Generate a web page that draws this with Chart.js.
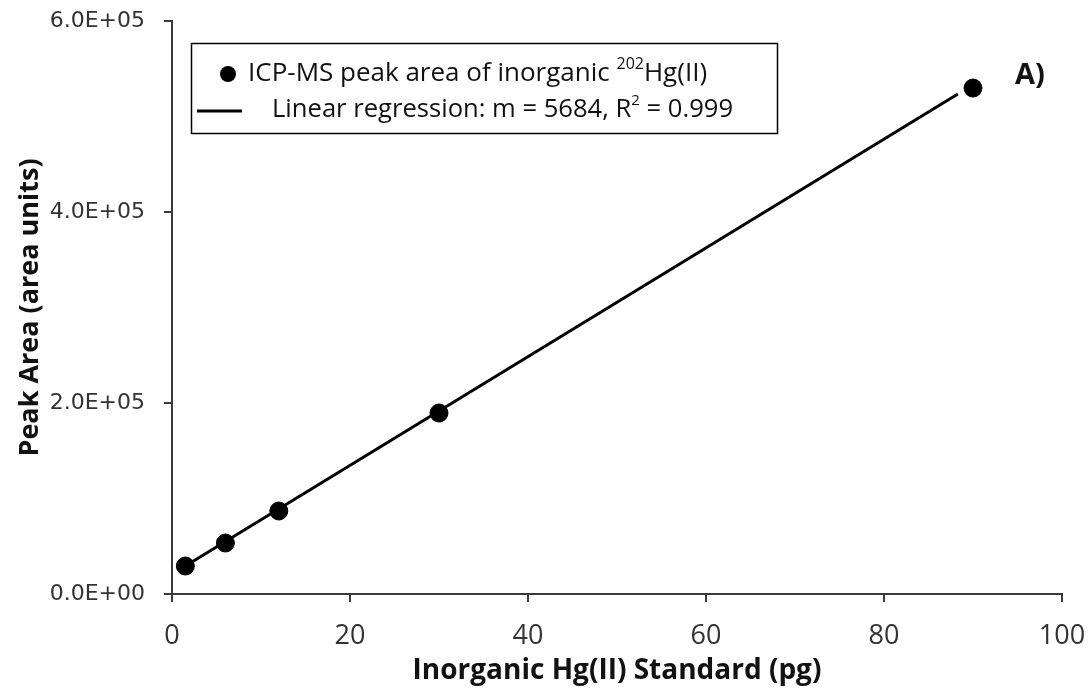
<!DOCTYPE html>
<html>
<head>
<meta charset="utf-8">
<script src="https://cdn.jsdelivr.net/npm/chart.js@4/dist/chart.umd.min.js"></script>
<style>
  html, body { margin: 0; padding: 0; background: #fff; }
  #myChart { display: block; }
</style>
</head>
<body>
<canvas id="myChart" width="1089" height="698"></canvas>
<script>
// standard amounts (pg) and measured peak areas
var standardPg = [1.5, 6, 12, 30, 90]
var peakArea = [29300, 53400, 86900, 189500, 529800]
// regression line end points
var regX = [1.5, 88.3]
var regY = [29300, 523500]
var xTicks = [0, 20, 40, 60, 80, 100]
var yTicks = [0, 200000, 400000, 600000]

var axisColor = '#3a3a3a'
var labelColor = '#333'

const sciLabel = (v) => {
    if (v === 0) return '0.0E+00'
    var e = Math.floor(Math.log10(Math.abs(v)))
    var m = v / Math.pow(10, e)
    return m.toFixed(1) + 'E' + (e < 0 ? '-' : '+') + String(Math.abs(e)).padStart(2, '0')
}

// draw text with superscript pieces: parts = [[text, isSup], ...]
const drawRich = (c, parts, x, y, size) => {
    parts.forEach(p => {
        if (p[1]) {
            c.font = Math.round(size * 0.6) + 'px "Open Sans"'
            c.fillText(p[0], x, y - size * 0.36)
        } else {
            c.font = size + 'px "Open Sans"'
            c.fillText(p[0], x, y)
        }
        x += c.measureText(p[0]).width
    })
}

const legendBox = {
    id: 'legendBox',
    afterDraw(chart) {
        var c = chart.ctx
        c.save()
        c.fillStyle = '#fff'
        c.fillRect(191.5, 43.5, 586, 90)
        c.strokeStyle = '#000'
        c.lineWidth = 1.5
        c.strokeRect(191.5, 43.5, 586, 90)
        // marker
        c.fillStyle = '#000'
        c.beginPath()
        c.arc(228, 74, 8, 0, Math.PI * 2)
        c.fill()
        // line sample
        c.lineWidth = 3
        c.beginPath()
        c.moveTo(197, 111)
        c.lineTo(242, 111)
        c.stroke()
        c.fillStyle = '#111'
        c.textBaseline = 'middle'
        c.textAlign = 'left'
        drawRich(c, [['ICP-MS peak area of inorganic ', false], ['202', true], ['Hg(II)', false]], 248, 74, 26)
        drawRich(c, [['Linear regression: m = 5684, R', false], ['2', true], [' = 0.999', false]], 272, 110, 25.6)
        // panel label
        c.font = 'bold 29px "Open Sans"'
        c.fillText('A)', 1015, 76)
        c.restore()
    }
}

const noPad = (s) => {
    s.paddingLeft = 0
    s.paddingRight = 0
    s.paddingTop = 0
    s.paddingBottom = 0
}

var ctx = document.getElementById('myChart')
var myChart = new Chart(ctx, {
    type: 'scatter',
    data: {
        datasets: [{
            label: 'ICP-MS peak area of inorganic 202Hg(II)',
            data: standardPg.map((x, i) => ({ x: x, y: peakArea[i] })),
            backgroundColor: '#000',
            borderColor: '#000',
            pointRadius: 9,
            pointHoverRadius: 9,
            order: 0
        }, {
            type: 'line',
            label: 'Linear regression',
            data: regX.map((x, i) => ({ x: x, y: regY[i] })),
            borderColor: '#000',
            borderWidth: 3,
            pointRadius: 0,
            fill: false,
            order: 1
        }]
    },
    options: {
        responsive: false,
        animation: false,
        layout: { padding: { left: 0, right: 27, top: 21, bottom: 0 } },
        plugins: {
            legend: { display: false },
            tooltip: { enabled: false }
        },
        scales: {
            x: {
                type: 'linear',
                min: 0,
                max: 100,
                afterBuildTicks: (s) => { s.ticks = xTicks.map(v => ({ value: v })) },
                afterFit: (s) => { s.height = 104; noPad(s) },
                ticks: {
                    color: labelColor,
                    padding: 18,
                    font: { family: 'Open Sans', size: 27 }
                },
                grid: { drawOnChartArea: false, drawTicks: true, tickLength: 8, color: axisColor, lineWidth: 2 },
                border: { display: true, color: axisColor, width: 2 },
                title: {
                    display: true,
                    text: 'Inorganic Hg(II) Standard (pg)',
                    color: '#111',
                    font: { family: 'Open Sans', size: 28, weight: 'bold' },
                    padding: { top: 0, bottom: 10 }
                }
            },
            y: {
                type: 'linear',
                min: 0,
                max: 600000,
                afterBuildTicks: (s) => { s.ticks = yTicks.map(v => ({ value: v })) },
                afterFit: (s) => { s.width = 172; noPad(s) },
                ticks: {
                    color: labelColor,
                    padding: 19,
                    font: { family: 'DejaVu Sans', size: 22 },
                    callback: (v) => sciLabel(v)
                },
                grid: { drawOnChartArea: false, drawTicks: true, tickLength: 8, color: axisColor, lineWidth: 2 },
                border: { display: true, color: axisColor, width: 2 },
                title: {
                    display: true,
                    text: 'Peak Area (area units)',
                    color: '#111',
                    font: { family: 'Open Sans', size: 27, weight: 'bold' },
                    padding: { top: 14, bottom: 0 }
                }
            }
        }
    },
    plugins: [legendBox]
})
</script>
</body>
</html>
